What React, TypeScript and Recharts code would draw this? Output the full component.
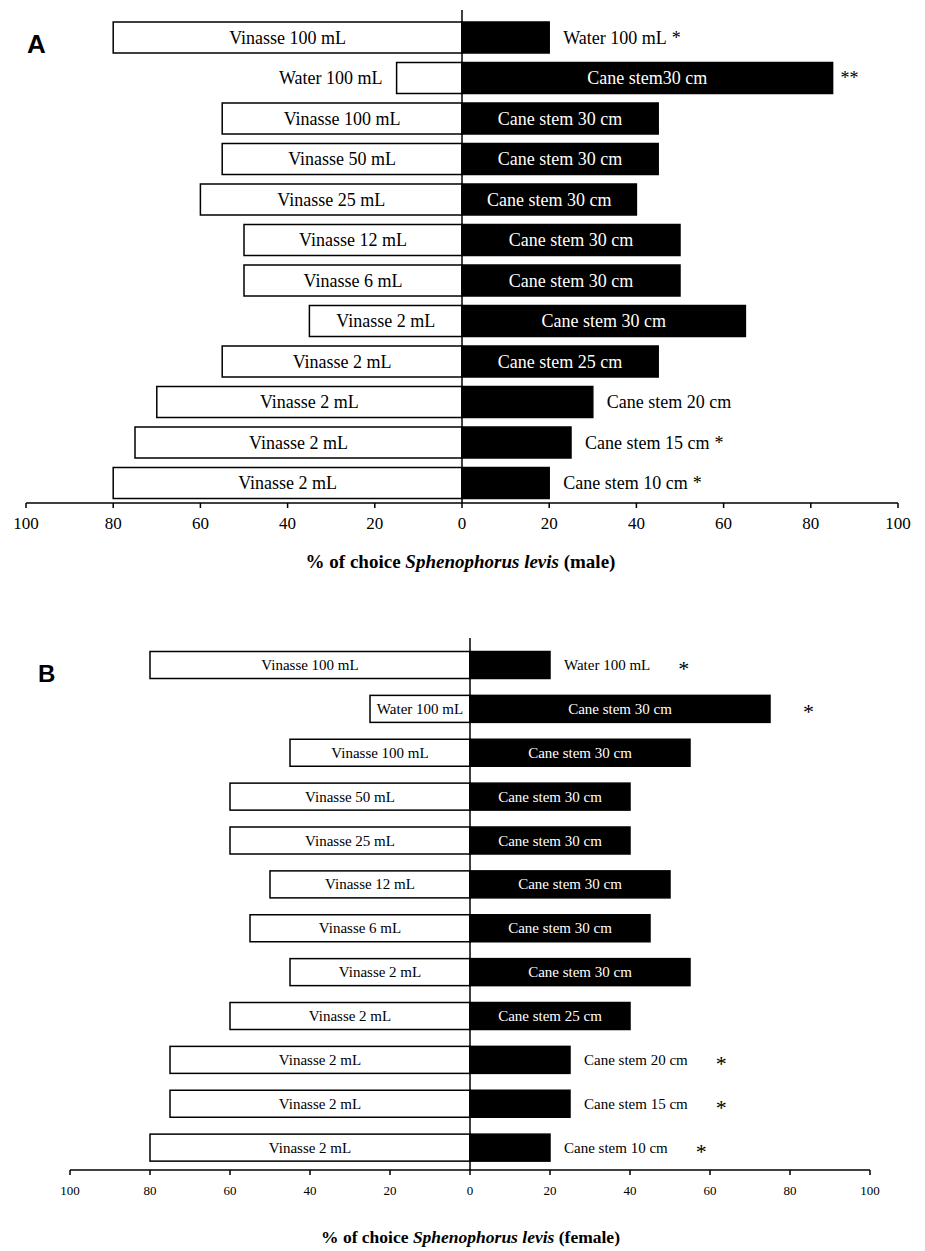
import React from "react";
import { BarChart, Bar, XAxis, YAxis, ReferenceLine } from "recharts";

// Male choices (panel A), rows listed top to bottom
const maleLeftLabels = [
  "Vinasse 100 mL",
  "Water 100 mL",
  "Vinasse 100 mL",
  "Vinasse 50 mL",
  "Vinasse 25 mL",
  "Vinasse 12 mL",
  "Vinasse 6 mL",
  "Vinasse 2 mL",
  "Vinasse 2 mL",
  "Vinasse 2 mL",
  "Vinasse 2 mL",
  "Vinasse 2 mL",
];
const maleLeft = [80, 15, 55, 55, 60, 50, 50, 35, 55, 70, 75, 80];
const maleRightLabels = [
  "Water 100 mL",
  "Cane stem30 cm",
  "Cane stem 30 cm",
  "Cane stem 30 cm",
  "Cane stem 30 cm",
  "Cane stem 30 cm",
  "Cane stem 30 cm",
  "Cane stem 30 cm",
  "Cane stem 25 cm",
  "Cane stem 20 cm",
  "Cane stem 15 cm",
  "Cane stem 10 cm",
];
const maleRight = [20, 85, 45, 45, 40, 50, 50, 65, 45, 30, 25, 20];
const maleSig = ["*", "**", "", "", "", "", "", "", "", "", "*", "*"];

// Female choices (panel B)
const femaleLeftLabels = [
  "Vinasse 100 mL",
  "Water 100 mL",
  "Vinasse 100 mL",
  "Vinasse 50 mL",
  "Vinasse 25 mL",
  "Vinasse 12 mL",
  "Vinasse 6 mL",
  "Vinasse 2 mL",
  "Vinasse 2 mL",
  "Vinasse 2 mL",
  "Vinasse 2 mL",
  "Vinasse 2 mL",
];
const femaleLeft = [80, 25, 45, 60, 60, 50, 55, 45, 60, 75, 75, 80];
const femaleRightLabels = [
  "Water 100 mL",
  "Cane stem 30 cm",
  "Cane stem 30 cm",
  "Cane stem 30 cm",
  "Cane stem 30 cm",
  "Cane stem 30 cm",
  "Cane stem 30 cm",
  "Cane stem 30 cm",
  "Cane stem 25 cm",
  "Cane stem 20 cm",
  "Cane stem 15 cm",
  "Cane stem 10 cm",
];
const femaleRight = [20, 75, 55, 40, 40, 50, 45, 55, 40, 25, 25, 20];
const femaleSig = ["*", "*", "", "", "", "", "", "", "", "*", "*", "*"];

const xTicks = [-100, -80, -60, -40, -20, 0, 20, 40, 60, 80, 100];

const SERIF = "Liberation Serif";
const SANS = "Liberation Sans";

type Row = {
  id: string;
  left: number;
  right: number;
  leftLabel: string;
  rightLabel: string;
  sig: string;
};

type PanelStyle = {
  fontSize: number;
  tickFontSize: number;
  tickOffset: number;
  barSize: number;
  starSize: number;
  starGapInside: number;
  starGapOutside: number;
  starDy: number;
};

const buildRows = (
  leftLabels: string[],
  left: number[],
  rightLabels: string[],
  right: number[],
  sig: string[]
): Row[] =>
  leftLabels.map((l, i) => ({
    id: String(i),
    left: -left[i],
    right: right[i],
    leftLabel: l,
    rightLabel: rightLabels[i],
    sig: sig[i],
  }));

const maleRows = buildRows(maleLeftLabels, maleLeft, maleRightLabels, maleRight, maleSig);
const femaleRows = buildRows(femaleLeftLabels, femaleLeft, femaleRightLabels, femaleRight, femaleSig);

// bar plus its own caption; the caption goes outside when it does not fit
const makeShape = (side: "left" | "right", st: PanelStyle) => (props: any) => {
  const { x, y, width, height, payload } = props;
  const x0 = Math.min(x, x + width);
  const w = Math.abs(width);
  const cy = y + height / 2;
  const label = side === "left" ? payload.leftLabel : payload.rightLabel;
  const fits = label.length * st.fontSize * 0.5 + 8 <= w;
  const fill = side === "left" ? "#fff" : "#000";
  const textCommon = {
    fontFamily: SERIF,
    fontSize: st.fontSize,
    dominantBaseline: "central" as const,
  };
  let caption: React.ReactNode;
  if (side === "left") {
    caption = fits ? (
      <text x={x0 + w / 2} y={cy} textAnchor="middle" fill="#000" {...textCommon}>
        {label}
      </text>
    ) : (
      <text x={x0 - 14} y={cy} textAnchor="end" fill="#000" {...textCommon}>
        {label}
      </text>
    );
  } else if (fits) {
    caption = (
      <>
        <text x={x0 + w / 2} y={cy} textAnchor="middle" fill="#fff" {...textCommon}>
          {label}
        </text>
        {payload.sig && (
          <text
            x={x0 + w + st.starGapInside}
            y={cy + st.starDy}
            fill="#000"
            fontFamily={SERIF}
            fontSize={st.starSize}
            dominantBaseline="central"
          >
            {payload.sig}
          </text>
        )}
      </>
    );
  } else {
    caption = (
      <text x={x0 + w + 14} y={cy} fill="#000" {...textCommon}>
        {label}
        {payload.sig && (
          <tspan dx={st.starGapOutside} dy={st.starDy} fontSize={st.starSize}>
            {payload.sig}
          </tspan>
        )}
      </text>
    );
  }
  return (
    <g>
      <rect x={x0} y={y} width={w} height={height} fill={fill} stroke="#000" strokeWidth={1.5} />
      {caption}
    </g>
  );
};

// percentage tick, printed without sign on both sides of zero
const makeTick = (st: PanelStyle) => (props: any) => {
  const { x, y, payload } = props;
  return (
    <text
      x={x}
      y={y + st.tickOffset}
      textAnchor="middle"
      dominantBaseline="central"
      fill="#000"
      fontFamily={SERIF}
      fontSize={st.tickFontSize}
    >
      {Math.abs(payload.value)}
    </text>
  );
};

function ChoicePanel({
  rows,
  width,
  height,
  margin,
  axisHeight,
  padTop,
  st,
}: {
  rows: Row[];
  width: number;
  height: number;
  margin: { top: number; right: number; bottom: number; left: number };
  axisHeight: number;
  padTop: number;
  st: PanelStyle;
}) {
  return (
    <BarChart
      width={width}
      height={height}
      data={rows}
      layout="vertical"
      stackOffset="sign"
      margin={margin}
      barSize={st.barSize}
    >
      <XAxis
        type="number"
        domain={[-100, 100]}
        ticks={xTicks}
        height={axisHeight}
        axisLine={{ stroke: "#000", strokeWidth: 1.5 }}
        tickLine={{ stroke: "#000", strokeWidth: 1.5 }}
        tickSize={5}
        tickMargin={0}
        tick={makeTick(st)}
        interval={0}
      />
      <YAxis type="category" dataKey="id" hide padding={{ top: padTop, bottom: 0 }} />
      <Bar
        dataKey="left"
        stackId="s"
        isAnimationActive={false}
        shape={makeShape("left", st)}
      />
      <Bar
        dataKey="right"
        stackId="s"
        isAnimationActive={false}
        shape={makeShape("right", st)}
      />
      <ReferenceLine x={0} stroke="#000" strokeWidth={1.5} />
    </BarChart>
  );
}

const maleStyle: PanelStyle = {
  fontSize: 18,
  tickFontSize: 17,
  tickOffset: 15,
  barSize: 31,
  starSize: 18,
  starGapInside: 8,
  starGapOutside: 5,
  starDy: 0,
};

const femaleStyle: PanelStyle = {
  fontSize: 15,
  tickFontSize: 13,
  tickOffset: 15,
  barSize: 27,
  starSize: 22,
  starGapInside: 33,
  starGapOutside: 28,
  starDy: 3,
};

const titleStyle: React.CSSProperties = {
  position: "absolute",
  width: 925,
  textAlign: "center",
  fontFamily: SERIF,
  fontWeight: "bold",
  color: "#000",
  whiteSpace: "nowrap",
};

export default function App() {
  return (
    <div
      style={{
        position: "absolute",
        left: 0,
        top: 0,
        width: 925,
        height: 1251,
        background: "#fff",
        overflow: "hidden",
      }}
    >
      <div style={{ position: "absolute", left: 0, top: 0 }}>
        <ChoicePanel
          rows={maleRows}
          width={925}
          height={590}
          margin={{ top: 10, right: 27, bottom: 0, left: 26 }}
          axisHeight={87}
          padTop={7}
          st={maleStyle}
        />
      </div>
      <div
        style={{
          position: "absolute",
          left: 27,
          top: 31,
          fontFamily: SANS,
          fontWeight: "bold",
          fontSize: 26,
          lineHeight: "26px",
        }}
      >
        A
      </div>
      <div style={{ ...titleStyle, left: -2, top: 550, fontSize: 19, lineHeight: "24px" }}>
        % of choice <i>Sphenophorus levis</i> (male)
      </div>

      <div style={{ position: "absolute", left: 0, top: 600 }}>
        <ChoicePanel
          rows={femaleRows}
          width={925}
          height={651}
          margin={{ top: 38, right: 55, bottom: 0, left: 70 }}
          axisHeight={81}
          padTop={5.5}
          st={femaleStyle}
        />
      </div>
      <div
        style={{
          position: "absolute",
          left: 38,
          top: 662,
          fontFamily: SANS,
          fontWeight: "bold",
          fontSize: 24,
          lineHeight: "24px",
        }}
      >
        B
      </div>
      <div style={{ ...titleStyle, left: 8, top: 1226, fontSize: 17.5, lineHeight: "22px" }}>
        % of choice <i>Sphenophorus levis</i> (female)
      </div>
    </div>
  );
}
